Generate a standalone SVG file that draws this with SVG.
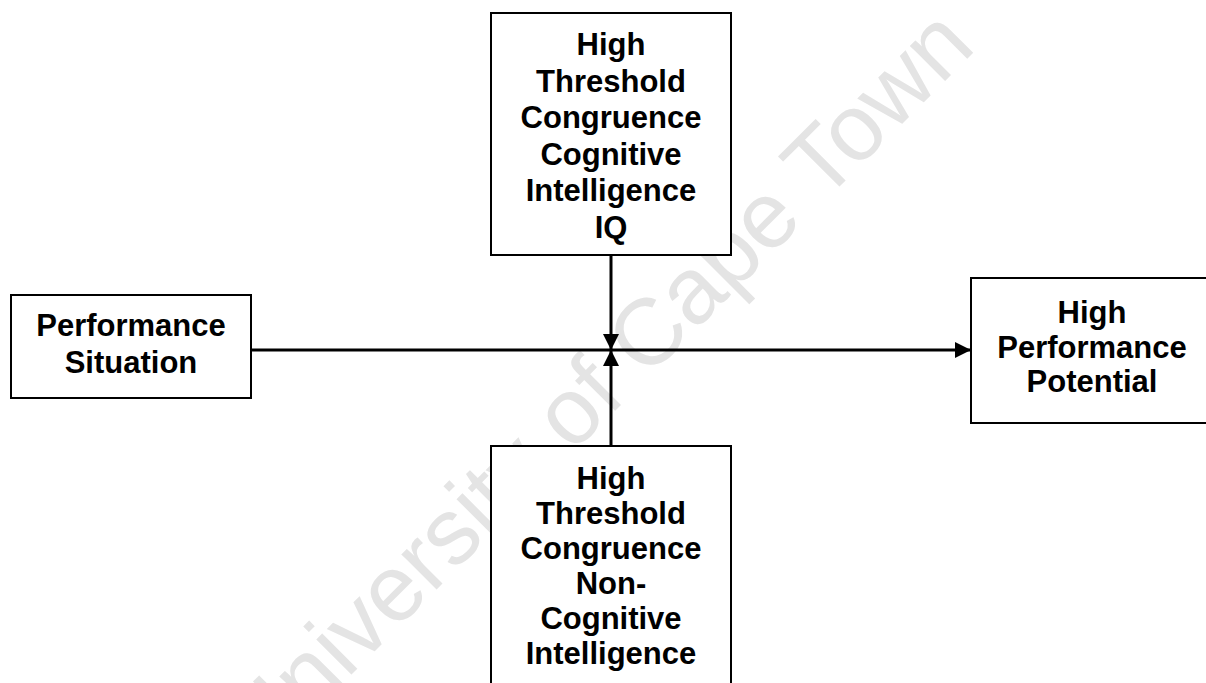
<svg xmlns="http://www.w3.org/2000/svg" width="1206" height="683" viewBox="0 0 1206 683">
<style>
.box{fill:#fff;stroke:#000;stroke-width:2}
.lbl{font-family:"Liberation Sans",Arial,sans-serif;font-weight:bold;font-size:31px;fill:#000;text-anchor:middle}
.conn{stroke:#000;stroke-width:3;fill:none}
.wm{font-family:"Liberation Sans",Arial,sans-serif;font-size:94px;fill:#e4e4e4}
</style>
<defs>
<marker id="arr" viewBox="0 0 16 16" refX="16" refY="8" markerWidth="16" markerHeight="16" markerUnits="userSpaceOnUse" orient="auto">
<path d="M0,0 L16,8 L0,16 Z" fill="#000"/>
</marker>
</defs>
<rect width="1206" height="683" fill="#fff"/>
<text class="wm" transform="translate(262,764) rotate(-45)">University of Cape Town</text>
<g id="connectors">
<line class="conn" x1="251" y1="350" x2="971" y2="350" marker-end="url(#arr)"/>
<line class="conn" x1="611" y1="255" x2="611" y2="350" marker-end="url(#arr)"/>
<line class="conn" x1="611" y1="446" x2="611" y2="350" marker-end="url(#arr)"/>
</g>
<g id="performance-situation">
<rect class="box" x="11" y="295" width="240" height="103"/>
<text class="lbl" x="131" y="336">Performance</text>
<text class="lbl" x="131" y="373">Situation</text>
</g>
<g id="cognitive">
<rect class="box" x="491" y="13" width="240" height="242"/>
<text class="lbl" x="611" y="55">High</text>
<text class="lbl" x="611" y="91.5">Threshold</text>
<text class="lbl" x="611" y="128">Congruence</text>
<text class="lbl" x="611" y="164.5">Cognitive</text>
<text class="lbl" x="611" y="201">Intelligence</text>
<text class="lbl" x="611" y="238">IQ</text>
</g>
<g id="non-cognitive">
<rect class="box" x="491" y="446" width="240" height="260"/>
<text class="lbl" x="611" y="489">High</text>
<text class="lbl" x="611" y="524">Threshold</text>
<text class="lbl" x="611" y="559">Congruence</text>
<text class="lbl" x="611" y="594">Non-</text>
<text class="lbl" x="611" y="629">Cognitive</text>
<text class="lbl" x="611" y="664">Intelligence</text>
</g>
<g id="high-performance-potential">
<rect class="box" x="971" y="278" width="242" height="145"/>
<text class="lbl" x="1092" y="323">High</text>
<text class="lbl" x="1092" y="357.5">Performance</text>
<text class="lbl" x="1092" y="392">Potential</text>
</g>
</svg>
